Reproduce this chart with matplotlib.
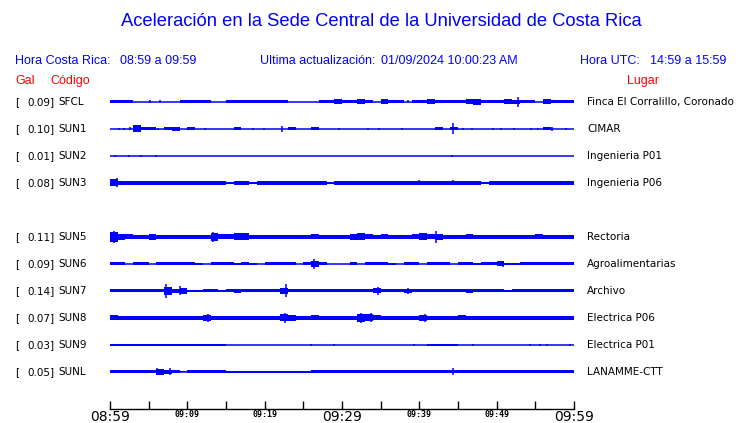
import numpy as np
import matplotlib
matplotlib.use("Agg")
import matplotlib.pyplot as plt

# station table
codes = ["SFCL", "SUN1", "SUN2", "SUN3", "SUN5", "SUN6", "SUN7", "SUN8", "SUN9", "SUNL"]
gal = [0.09, 0.10, 0.01, 0.08, 0.11, 0.09, 0.14, 0.07, 0.03, 0.05]
lugar = ["Finca El Corralillo, Coronado", "CIMAR", "Ingenieria P01", "Ingenieria P06",
         "Rectoria", "Agroalimentarias", "Archivo", "Electrica P06", "Electrica P01",
         "LANAMME-CTT"]
slots = [0, 1, 2, 3, 5, 6, 7, 8, 9, 10]   # SUN4 row is empty

# per-minute envelope (half height, px), 60 minutes each
env_sfcl = [1.5, 1.5, 1.5, 0, 0, 0, 0, 0, 0, 1.5,
            1.5, 1.5, 1.5, 0, 0, 1.5, 1.5, 1.5, 1.5, 1.5,
            1.5, 1.5, 1.5, 0, 0, 0, 0, 1.5, 1.5, 2.5,
            1.5, 1.5, 2.5, 1.5, 0, 2.5, 1.5, 1.5, 0, 1.5,
            1.5, 2.5, 1.5, 1.5, 1.5, 1.5, 2.5, 3, 1.5, 1.5,
            1.5, 2.5, 2, 1.5, 1.5, 0, 2.5, 1.5, 1.5, 1.5]
env_sun1 = [0, 0, 0, 3.5, 1.5, 1.5, 0, 1.5, 2, 0,
            1.5, 0, 0, 0, 0, 0, 1.5, 0, 0, 0,
            0, 0, 0, 1.5, 0, 0, 1.5, 0, 0, 0,
            0, 0, 0, 0, 0, 0, 0, 0, 0, 0,
            0, 0, 1.5, 0, 1.5, 0, 0, 0, 0, 0,
            0, 0, 0, 0, 0, 0, 1.5, 0, 0, 0]
env_sun2 = [0] * 60
env_sun3 = [3.5, 2, 1.8, 1.8, 1.8, 1.8, 1.8, 1.8, 1.8, 1.8,
            1.8, 1.8, 1.8, 1.8, 1.8, 1.2, 1.8, 1.8, 1.2, 1.8,
            1.8, 1.8, 1.8, 1.8, 1.8, 1.8, 1.8, 1.8, 1.2, 1.8,
            1.8, 1.8, 1.8, 1.8, 1.8, 1.8, 1.8, 1.8, 1.8, 1.8,
            1.8, 1.8, 1.8, 1.8, 1.8, 1.8, 1.8, 1.8, 1.2, 1.8,
            1.8, 1.8, 1.8, 1.8, 1.8, 1.8, 1.8, 1.8, 1.8, 1.8]
env_sun5 = [5, 3, 2.5, 2.2, 2.2, 3, 2.2, 2.2, 2.2, 2.2,
            2.2, 2.2, 2.2, 4, 2.5, 2.5, 3.5, 3.5, 2.2, 2.2,
            2.2, 2.2, 2.2, 2.2, 2.2, 2.2, 2.5, 2.2, 2.2, 2.2,
            2.2, 3, 3.5, 2.5, 2.2, 2.5, 2.2, 2.2, 2.2, 2.5,
            3.5, 2.5, 3, 2.2, 2.2, 2.2, 2.5, 2.2, 2.2, 2.2,
            2.2, 2.2, 2.2, 2.2, 2.2, 2.5, 2.2, 2.2, 2.2, 2.2]
env_sun6 = [1.5, 1.5, 0, 1.5, 1.5, 0, 1.5, 1.5, 1.5, 1.5,
            1.5, 1, 0, 1.5, 1.5, 1.5, 1, 1.5, 1, 0,
            1.5, 1.5, 1.5, 1.5, 0, 1.5, 3, 1.5, 0, 0,
            0, 1.5, 0, 1.5, 1.5, 1.5, 1, 0, 1.5, 1.5,
            0, 1.5, 1.5, 1.5, 0, 1.5, 1.5, 1, 1.5, 1.5,
            2.5, 1, 1, 1.5, 1.5, 1.5, 1.5, 1.5, 1.5, 1.5]
env_sun7 = [1.5, 1.5, 1.5, 1.5, 1.5, 1.5, 1.5, 4, 2, 3,
            1, 1, 1.5, 1.5, 1, 1.5, 2, 1.5, 1.5, 1.5,
            1.5, 1.5, 3, 1.5, 1.5, 1.5, 1.5, 1.5, 1.5, 1.5,
            1.5, 1.5, 1.5, 1.5, 2.5, 1.5, 1.5, 1.5, 2, 1.5,
            1.5, 1.5, 1.5, 1.5, 1.5, 1.5, 2, 1.5, 1.5, 1.5,
            1.5, 1, 1.5, 1.5, 1.5, 1.5, 1.5, 1.5, 1.5, 1.5]
env_sun8 = [2.5, 2, 2, 2, 2, 2, 2, 2, 2, 2,
            2, 2, 3, 2, 2, 2, 2, 2, 2, 2,
            2, 2, 3.5, 3, 2, 2, 2.5, 2, 2, 2,
            2, 2, 4, 3.5, 2.5, 2, 2, 2, 2, 2,
            3, 2, 2, 2, 2, 2.5, 2, 2, 2, 2,
            2, 2, 2, 2, 2, 2, 2, 2, 2, 2]
env_sun9 = [1.2, 1.2, 1.2, 0.8, 1.2, 1.2, 1.2, 1.2, 1.2, 0.8,
            1.2, 0.8, 1.2, 1.2, 1.2, 0, 0, 0, 0, 0,
            0, 0, 0, 0, 0, 0, 0, 0, 0, 0,
            0, 0, 0, 0, 0, 0, 0, 0, 0, 0,
            0, 0.8, 0.8, 0.8, 0.8, 0, 0, 0, 0, 0,
            0, 0, 0, 0, 0, 0, 0, 0, 0, 0]
env_sunl = [1.5, 1.5, 1.5, 1.5, 1.5, 1.5, 3, 1.8, 1.5, 0.5,
            1.5, 1.5, 1.5, 1.5, 1.5, 1.2, 1.2, 1.2, 1.2, 1.2,
            1.2, 1.2, 1.2, 1.2, 1.2, 1.2, 1.5, 1.5, 1.5, 1.5,
            1.5, 1.5, 1.5, 1.5, 1.5, 1.5, 1.5, 1.5, 1.5, 1.5,
            1.5, 1.5, 1.5, 1.5, 1.5, 1.5, 1.5, 1.5, 1.5, 1.5,
            1.5, 1.5, 1.5, 1.5, 1.5, 1.5, 1.5, 1.5, 1.5, 1.5]
envelopes = [env_sfcl, env_sun1, env_sun2, env_sun3, env_sun5,
             env_sun6, env_sun7, env_sun8, env_sun9, env_sunl]

# isolated spikes (minute, half height px)
spk_sfcl = [(5.2, 1.5), (6.5, 1.5), (38.5, 1.5), (52.8, 5)]
spk_sun1 = [(1.1, 1), (1.8, 1), (2.6, 1.5), (6.2, 1), (12.3, 1), (18.5, 1), (19.9, 1),
            (22.2, 2.7), (29.6, 1), (33.3, 1), (34.8, 1), (37.8, 1), (44.3, 5.5),
            (45.6, 1), (46.8, 1), (49.5, 1), (50.6, 1), (52.3, 1), (54.5, 1),
            (55.4, 1), (57.1, 2), (59, 1)]
spk_sun2 = [(0.7, 1.2), (2.5, 0.8), (4, 0.8), (6, 0.8), (44.2, 0.8)]
spk_sun3 = [(0.9, 4.5), (15.5, 1), (40, 2.5), (44.3, 2.5)]
spk_sun5 = [(0.5, 6), (13.3, 5), (42.1, 6)]
spk_sun6 = [(26.4, 5), (50.8, 3)]
spk_sun7 = [(7.2, 7), (9.1, 4.5), (22.7, 6.5), (34.7, 4), (38.5, 3)]
spk_sun8 = [(12.7, 4), (22.6, 5), (32.5, 5), (33.8, 4.5), (40.7, 4)]
spk_sun9 = [(26, 1), (29, 1), (39.3, 1), (47, 1), (54.3, 1), (55.6, 1), (56.5, 1), (59.5, 1)]
spk_sunl = [(6.1, 3.5), (7.8, 3.5), (44.3, 3.5)]
spikes = [spk_sfcl, spk_sun1, spk_sun2, spk_sun3, spk_sun5,
          spk_sun6, spk_sun7, spk_sun8, spk_sun9, spk_sunl]

time_labels = ["08:59", "09:09", "09:19", "09:29", "09:39", "09:49", "09:59"]
big_label = [True, False, False, True, False, False, True]

BLUE = "#0000ff"
W, H = 740, 423

fig = plt.figure(figsize=(W / 100, H / 100), dpi=100)

def fy(ypx):
    return 1 - ypx / H

# traces, y axis in pixels
ax = fig.add_axes([110 / W, 0, 464 / W, 1])
ax.set_xlim(0, 60)
ax.set_ylim(H, 0)
ax.axis("off")

minutes = np.arange(61)
lab = dict(fontsize=7.5, va="center", family="DejaVu Sans")
for k in range(len(codes)):
    y0 = 102 + 27 * slots[k]
    env = np.array(envelopes[k] + [envelopes[k][-1]])
    ax.fill_between(minutes, y0 - env, y0 + env, step="post", color=BLUE, lw=0)
    ax.plot([0, 60], [y0, y0], color=BLUE, lw=1.1)
    if spikes[k]:
        sx, sa = zip(*spikes[k])
        sa = np.array(sa)
        ax.vlines(sx, y0 - sa, y0 + sa, color=BLUE, lw=1.1)

    fig.text(15 / W, fy(y0), "[", ha="left", **lab)
    fig.text(55 / W, fy(y0), "%.2f]" % gal[k], ha="right", **lab)
    fig.text(58 / W, fy(y0), codes[k], ha="left", **lab)
    fig.text(587 / W, fy(y0), lugar[k], ha="left", **lab)

# time axis
tax = fig.add_axes([110 / W, (H - 409) / H, 464 / W, 0.001])
tax.set_xlim(0, 60)
for s in ["top", "left", "right"]:
    tax.spines[s].set_visible(False)
tax.spines["bottom"].set_linewidth(1)
tax.set_yticks([])
tax.set_xticks(np.arange(0, 61, 5))
tax.set_xticklabels([""] * 13)
tax.tick_params(axis="x", direction="in", length=6, width=1, pad=1)
for m, t, big in zip(range(0, 61, 10), time_labels, big_label):
    if big:
        tax.text(m, -1.2, t, transform=tax.get_xaxis_transform(), ha="center", va="top",
                 fontsize=10, family="DejaVu Sans")
    else:
        tax.text(m, -1.2, t, transform=tax.get_xaxis_transform(), ha="center", va="top",
                 fontsize=6, family="DejaVu Sans Mono", fontweight="bold")

# header
fig.text(381 / W, fy(22), "Aceleración en la Sede Central de la Universidad de Costa Rica",
         color=BLUE, fontsize=13.2, ha="center", va="center", family="Liberation Sans")
hdr = dict(color=BLUE, fontsize=9, va="center", ha="left", family="Liberation Sans")
fig.text(15 / W, fy(61), "Hora Costa Rica:", **hdr)
fig.text(120 / W, fy(61), "08:59 a 09:59", **hdr)
fig.text(260 / W, fy(61), "Ultima actualización:", **hdr)
fig.text(381 / W, fy(61), "01/09/2024 10:00:23 AM", **hdr)
fig.text(580 / W, fy(61), "Hora UTC:", **hdr)
fig.text(650 / W, fy(61), "14:59 a 15:59", **hdr)
red = dict(color="#ff0000", fontsize=9, va="center", ha="left", family="Liberation Sans")
fig.text(15 / W, fy(81), "Gal", **red)
fig.text(50 / W, fy(81), "Código", **red)
fig.text(627 / W, fy(81), "Lugar", **red)

fig.savefig("out.png", dpi=100)
